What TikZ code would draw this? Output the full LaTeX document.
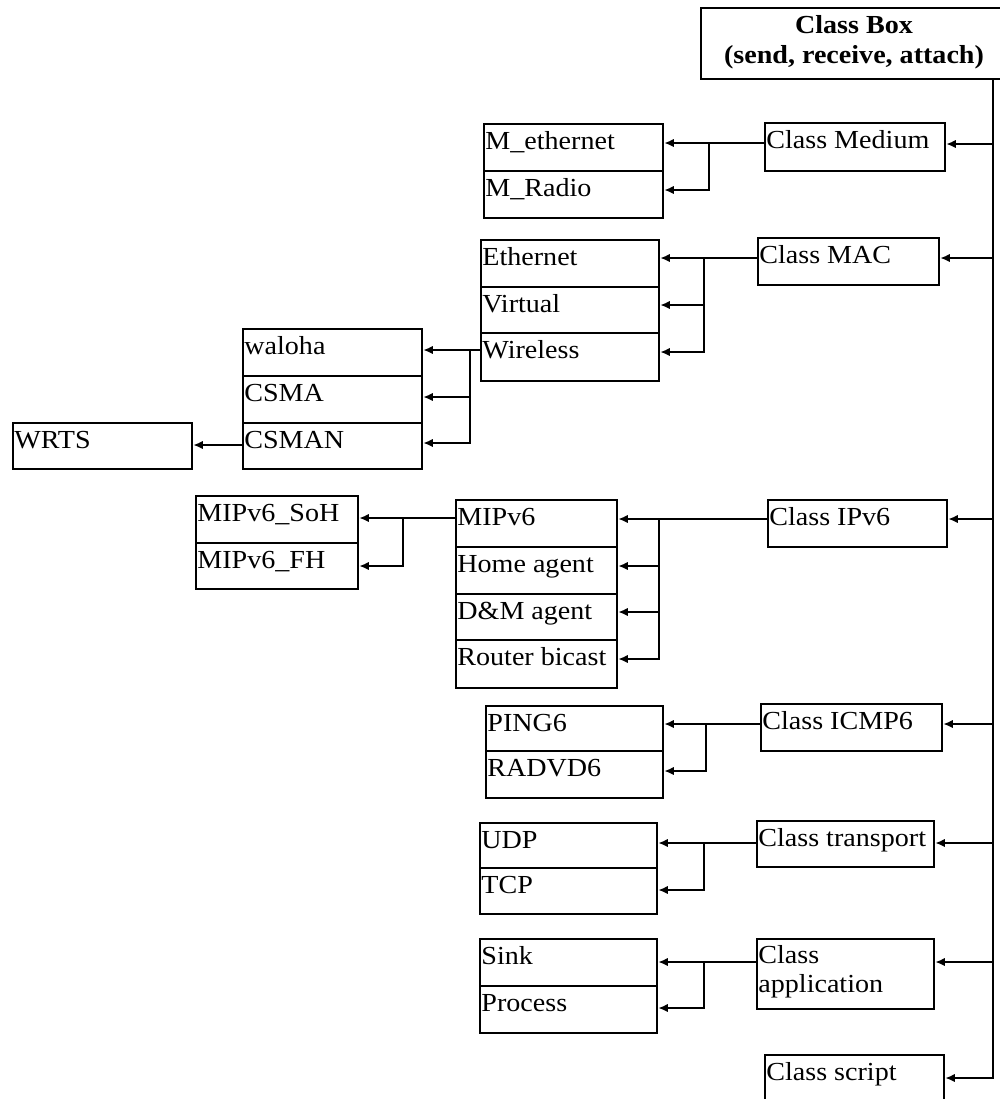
\documentclass[tikz,border=0pt]{standalone}
\usepackage{fontspec}
\setmainfont{Liberation Serif}[FakeStretch=1.08]
\usetikzlibrary{arrows.meta}
\tikzset{
  boxline/.style={draw=black, line width=1.1pt, rectangle, inner sep=0pt, fill=white},
  celltext/.style={anchor=base west, inner sep=0pt, font=\fontsize{13pt}{15pt}\selectfont},
  titletext/.style={anchor=base, inner sep=0pt, font=\fontsize{13pt}{15pt}\selectfont\bfseries},
  conn/.style={line width=1.1pt},
  arr/.style={line width=1.1pt, -{Latex[length=4.8pt,width=4.2pt]}},
}
% name, x1, y1, x2, y2, text
\newcommand\cellnode[6]{%
  \node[boxline, minimum width={(#4-#2)*0.5pt}, minimum height={(#5-#3)*0.5pt}, anchor=north west] (#1) at (#2,#3) {};
  \node[celltext] (#1-t) at ([shift={(2,26)}]#1.north west) {#6};
}
\begin{document}
\begin{tikzpicture}[x=0.5pt,y=-0.5pt]
\useasboundingbox (0,0) rectangle (1000,1099);
\clip (0,0) rectangle (1000,1099);

% Class Box
\node[boxline, minimum width={310*0.5pt}, minimum height={71*0.5pt}, anchor=north west] (cbox) at (700,7) {};
\node[titletext] (cbox-t1) at (854,33) {Class Box};
\node[titletext] (cbox-t2) at (854,63) {(send, receive, attach)};

% class nodes
\cellnode{medium}{764}{122}{944}{170}{Class Medium}
\cellnode{mac}{757}{237}{938}{284}{Class MAC}
\cellnode{ipv6}{767}{499}{946}{546}{Class IPv6}
\cellnode{icmp}{760}{703}{941}{750}{Class ICMP6}
\cellnode{transport}{756}{820}{933}{866}{Class transport}
\node[boxline, minimum width={177*0.5pt}, minimum height={70*0.5pt}, anchor=north west] (app) at (756,938) {};
\node[celltext] (app-t) at ([shift={(2,25)}]app.north west) {Class};
\node[celltext] (app-t2) at ([shift={(2,54)}]app.north west) {application};
\cellnode{script}{764}{1054}{943}{1112}{Class script}

% medium children
\cellnode{meth}{483}{123}{662}{170}{M\_ethernet}
\cellnode{mrad}{483}{170}{662}{217}{M\_Radio}
% MAC children
\cellnode{eth}{480}{239}{658}{286}{Ethernet}
\cellnode{virt}{480}{286}{658}{332}{Virtual}
\cellnode{wless}{480}{332}{658}{380}{Wireless}
% wireless children
\cellnode{waloha}{242}{328}{421}{375}{waloha}
\cellnode{csma}{242}{375}{421}{422}{CSMA}
\cellnode{csman}{242}{422}{421}{468}{CSMAN}
\cellnode{wrts}{12}{422}{191}{468}{WRTS}
% MIPv6 children
\cellnode{soh}{195}{495}{357}{542}{MIPv6\_SoH}
\cellnode{fh}{195}{542}{357}{588}{MIPv6\_FH}
% IPv6 children
\cellnode{mipv6}{455}{499}{616}{546}{MIPv6}
\cellnode{home}{455}{546}{616}{593}{Home agent}
\cellnode{dm}{455}{593}{616}{639}{D\&M agent}
\cellnode{router}{455}{639}{616}{687}{Router bicast}
% ICMP6 children
\cellnode{ping}{485}{705}{662}{750}{PING6}
\cellnode{radvd}{485}{750}{662}{797}{RADVD6}
% transport children
\cellnode{udp}{479}{822}{656}{867}{UDP}
\cellnode{tcp}{479}{867}{656}{913}{TCP}
% application children
\cellnode{sink}{479}{938}{656}{985}{Sink}
\cellnode{process}{479}{985}{656}{1032}{Process}

% bus
\coordinate (bus) at (993,78);
\draw[arr] (cbox.south -| bus) |- (script.east |- 0,1078);
\draw[arr] (bus |- 0,144) -- (medium.east |- 0,144);
\draw[arr] (bus |- 0,258) -- (mac.east |- 0,258);
\draw[arr] (bus |- 0,519) -- (ipv6.east |- 0,519);
\draw[arr] (bus |- 0,724) -- (icmp.east |- 0,724);
\draw[arr] (bus |- 0,843) -- (transport.east |- 0,843);
\draw[arr] (bus |- 0,962) -- (app.east |- 0,962);

% medium fan
\draw[arr] (medium.west |- 0,143) -- (meth.east |- 0,143);
\draw[arr] (709,143) |- (mrad.east |- 0,190);
% MAC fan
\draw[arr] (mac.west |- 0,258) -- (eth.east |- 0,258);
\draw[arr] (704,258) |- (virt.east |- 0,305);
\draw[arr] (704,258) |- (wless.east |- 0,352);
% wireless fan
\draw[arr] (wless.west |- 0,350) -- (waloha.east |- 0,350);
\draw[arr] (470,350) |- (csma.east |- 0,397);
\draw[arr] (470,350) |- (csman.east |- 0,443);
\draw[arr] (csman.west |- 0,445) -- (wrts.east |- 0,445);
% IPv6 fan
\draw[arr] (ipv6.west |- 0,519) -- (mipv6.east |- 0,519);
\draw[arr] (659,519) |- (home.east |- 0,566);
\draw[arr] (659,519) |- (dm.east |- 0,612);
\draw[arr] (659,519) |- (router.east |- 0,659);
% MIPv6 fan
\draw[arr] (mipv6.west |- 0,518) -- (soh.east |- 0,518);
\draw[arr] (403,518) |- (fh.east |- 0,566);
% ICMP6 fan
\draw[arr] (icmp.west |- 0,724) -- (ping.east |- 0,724);
\draw[arr] (706,724) |- (radvd.east |- 0,771);
% transport fan
\draw[arr] (transport.west |- 0,843) -- (udp.east |- 0,843);
\draw[arr] (704,843) |- (tcp.east |- 0,890);
% application fan
\draw[arr] (app.west |- 0,962) -- (sink.east |- 0,962);
\draw[arr] (704,962) |- (process.east |- 0,1008);
\end{tikzpicture}
\end{document}
